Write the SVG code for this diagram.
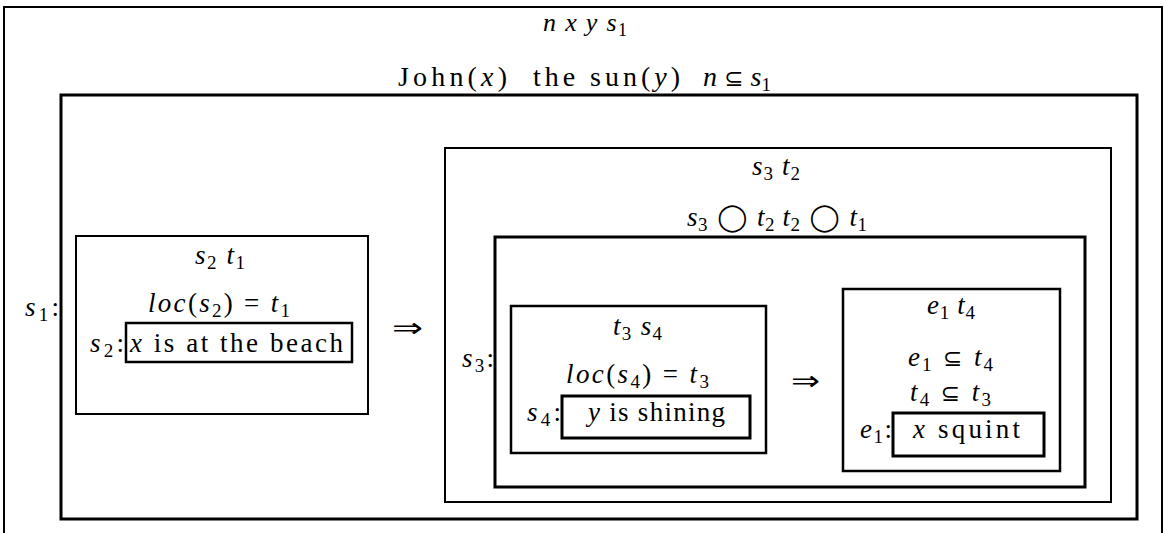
<svg xmlns="http://www.w3.org/2000/svg" width="1165" height="533" viewBox="0 0 1165 533">
<style>
.t{font-family:"Liberation Serif","DejaVu Serif",serif;font-size:27px;fill:#000}
.h{font-size:26px}
.j{font-size:28px}
.i{font-style:italic}
.sb{font-size:19px;font-style:normal}
.sbh{font-size:18px;font-style:normal}
.sym{font-family:"DejaVu Sans","DejaVu Serif",sans-serif;font-style:normal}
.sub{font-size:23px}
.box{fill:none;stroke:#000;stroke-width:2}
.mid{stroke-width:2.5}
.thick{stroke-width:3}
</style>
<rect width="1165" height="533" fill="#fff"/>

<g id="main-drs">
<rect class="box" x="4" y="7" width="1158" height="600"/>
<text class="t h i" x="543" y="31" textLength="84" lengthAdjust="spacing">n x y s<tspan class="sbh" dy="5">1</tspan></text>
<text class="t j" x="398" y="86" textLength="109" lengthAdjust="spacing">John(<tspan class="i">x</tspan>)</text>
<text class="t j" x="533" y="86" textLength="147" lengthAdjust="spacing">the sun(<tspan class="i">y</tspan>)</text>
<text class="t j" x="703" y="86" textLength="68" lengthAdjust="spacing"><tspan class="i">n</tspan> <tspan class="sym sub">⊆</tspan> <tspan class="i">s</tspan><tspan class="sb" dy="5">1</tspan></text>
</g>

<g id="s1-box">
<rect class="box thick" x="61" y="95" width="1076" height="424"/>
<text class="t" x="25" y="316" textLength="34" lengthAdjust="spacing"><tspan class="i">s</tspan><tspan class="sb" dy="5">1</tspan><tspan dy="-5">:</tspan></text>
</g>

<g id="s2-drs">
<rect class="box" x="76" y="236" width="292" height="178"/>
<text class="t i" x="195" y="264" textLength="50" lengthAdjust="spacing">s<tspan class="sb" dy="5">2</tspan><tspan dy="-5"> t</tspan><tspan class="sb" dy="5">1</tspan></text>
<text class="t i" x="148" y="312" textLength="142" lengthAdjust="spacing">loc<tspan style="font-style:normal">(</tspan>s<tspan class="sb" dy="5">2</tspan><tspan dy="-5" style="font-style:normal">) = </tspan>t<tspan class="sb" dy="5">1</tspan></text>
<text class="t" x="90" y="352" textLength="34" lengthAdjust="spacing"><tspan class="i">s</tspan><tspan class="sb" dy="5">2</tspan><tspan dy="-5">:</tspan></text>
</g>

<g id="s2-condition">
<rect class="box mid" x="126" y="323" width="226" height="39"/>
<text class="t" x="130" y="352" textLength="213" lengthAdjust="spacing"><tspan class="i">x</tspan> is at the beach</text>
</g>

<g id="s3-drs">
<rect class="box" x="445" y="148" width="666" height="354"/>
<text class="t i" x="752" y="175" textLength="48" lengthAdjust="spacing">s<tspan class="sb" dy="5">3</tspan><tspan dy="-5"> t</tspan><tspan class="sb" dy="5">2</tspan></text>
<text class="t i" x="687" y="226" textLength="180" lengthAdjust="spacing">s<tspan class="sb" dy="5">3</tspan><tspan dy="-5" class="sym"> ◯ </tspan>t<tspan class="sb" dy="5">2</tspan><tspan dy="-5"> t</tspan><tspan class="sb" dy="5">2</tspan><tspan dy="-5" class="sym"> ◯ </tspan>t<tspan class="sb" dy="5">1</tspan></text>
</g>

<g id="s3-box">
<rect class="box thick" x="495" y="237" width="590" height="250"/>
<text class="t" x="462" y="367" textLength="32" lengthAdjust="spacing"><tspan class="i">s</tspan><tspan class="sb" dy="5">3</tspan><tspan dy="-5">:</tspan></text>
</g>

<g id="s4-drs">
<rect class="box mid" x="511" y="306" width="255" height="147"/>
<text class="t i" x="613" y="335" textLength="49" lengthAdjust="spacing">t<tspan class="sb" dy="5">3</tspan><tspan dy="-5"> s</tspan><tspan class="sb" dy="5">4</tspan></text>
<text class="t i" x="566" y="383" textLength="143" lengthAdjust="spacing">loc<tspan style="font-style:normal">(</tspan>s<tspan class="sb" dy="5">4</tspan><tspan dy="-5" style="font-style:normal">) = </tspan>t<tspan class="sb" dy="5">3</tspan></text>
<text class="t" x="527" y="421" textLength="34" lengthAdjust="spacing"><tspan class="i">s</tspan><tspan class="sb" dy="5">4</tspan><tspan dy="-5">:</tspan></text>
</g>

<g id="s4-condition">
<rect class="box thick" x="562" y="396" width="188" height="42"/>
<text class="t" x="588" y="421" textLength="137" lengthAdjust="spacing"><tspan class="i">y</tspan> is shining</text>
</g>

<g id="e1-drs">
<rect class="box mid" x="843" y="289" width="217" height="182"/>
<text class="t i" x="927" y="314" textLength="48" lengthAdjust="spacing">e<tspan class="sb" dy="5">1</tspan><tspan dy="-5"> t</tspan><tspan class="sb" dy="5">4</tspan></text>
<text class="t i" x="908" y="366" textLength="85" lengthAdjust="spacing">e<tspan class="sb" dy="5">1</tspan><tspan dy="-5" class="sym sub"> ⊆ </tspan>t<tspan class="sb" dy="5">4</tspan></text>
<text class="t i" x="910" y="401" textLength="81" lengthAdjust="spacing">t<tspan class="sb" dy="5">4</tspan><tspan dy="-5" class="sym sub"> ⊆ </tspan>t<tspan class="sb" dy="5">3</tspan></text>
<text class="t" x="860" y="438" textLength="32" lengthAdjust="spacing"><tspan class="i">e</tspan><tspan class="sb" dy="5">1</tspan><tspan dy="-5">:</tspan></text>
</g>

<g id="e1-condition">
<rect class="box thick" x="893" y="413" width="151" height="43"/>
<text class="t" x="913" y="438" textLength="107" lengthAdjust="spacing"><tspan class="i">x</tspan> squint</text>
</g>

<g id="connectors">
<text class="t sym" x="392" y="337" font-size="28" textLength="31" lengthAdjust="spacingAndGlyphs">⇒</text>
<text class="t sym" x="791" y="390" font-size="28" textLength="29" lengthAdjust="spacingAndGlyphs">⇒</text>
</g>
</svg>
